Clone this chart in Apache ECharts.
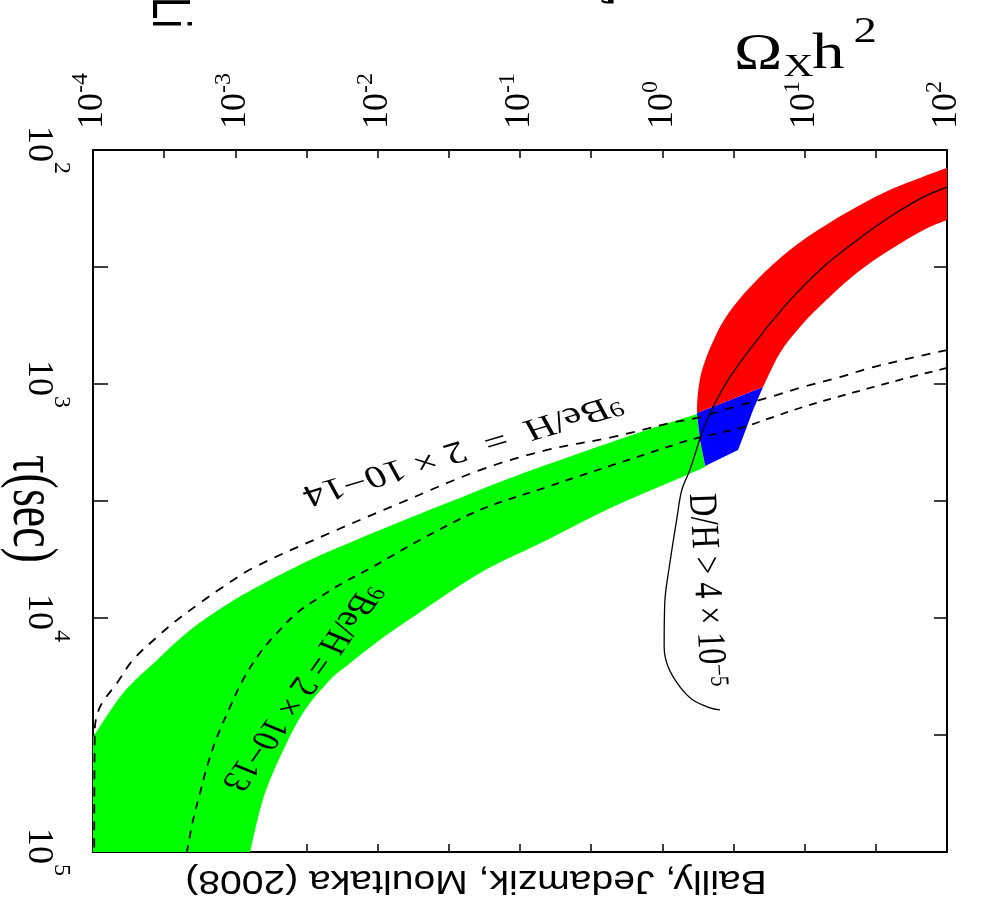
<!DOCTYPE html>
<html>
<head>
<meta charset="utf-8">
<title>Ω_X h² versus τ</title>
<script src="https://cdn.jsdelivr.net/npm/echarts@6.0.0/dist/echarts.min.js"></script>
<style>
html, body { margin: 0; padding: 0; background: #ffffff; }
#chart { width: 986px; height: 910px; }
</style>
</head>
<body>
<div id="chart"></div>
<script>
// Decades shown on each axis (log10 of the plotted quantity)
const omegaExponents = [-4, -3, -2, -1, 0, 1, 2];
const tauExponents = [2, 3, 4, 5];

// Region boundaries, points given as [Ω_X h², τ (sec)]
const redOuterEdge = [
  [100, 119], [67.9, 130], [39.8, 148], [23.3, 175], [13.5, 213], [7.9, 267],
  [4.62, 359], [3.14, 469], [2.42, 605], [1.93, 846], [1.78, 1092], [1.75, 1330]
];
const redInnerEdge = [
  [5.10, 1030], [6.71, 737], [9.27, 571], [13.5, 451], [23.3, 335], [39.8, 267],
  [67.9, 220], [100, 199]
];
const blueOutline = [
  [1.75, 1330], [5.10, 1030], [4.34, 1291], [3.69, 1684], [3.40, 1914],
  [2.00, 2241], [1.84, 1735]
];
const greenUpperEdge = [
  [1.75, 1343], [0.780, 1573], [0.264, 1972], [0.0893, 2497], [0.0307, 3226],
  [0.0104, 4207], [3.35e-3, 5650], [1.42e-3, 7370], [8.18e-4, 8970], [4.81e-4, 11250],
  [2.82e-4, 15100], [1.63e-4, 20900], [1e-4, 32300]
];
const greenLowerEdge = [
  [1.27e-3, 1e5], [1.56e-3, 59900], [2.06e-3, 39300], [2.98e-3, 25500],
  [4.62e-3, 18400], [6.40e-3, 15600], [0.0104, 12400], [0.0177, 9910],
  [0.0524, 6420], [0.155, 4640], [0.450, 3350], [1.33, 2520], [2.00, 2263]
];
const greenCorners = [[1e-4, 1e5], [1.84, 1735]];

// D/H > 4e-5 contour
const dhCurve = [
  [100, 144], [67.9, 159], [39.8, 193], [23.3, 243], [13.5, 316], [7.9, 438],
  [4.62, 649], [2.99, 933], [2.27, 1254], [1.93, 1573], [1.56, 2332], [1.37, 2838],
  [1.27, 3700], [1.13, 5820], [1.04, 8630], [1.03, 13300], [1.10, 16200],
  [1.33, 19700], [1.64, 22400], [2.16, 24200], [2.54, 24700]
];
// 9Be/H = 2e-14 contour
const be14Curve = [
  [100, 716], [49.1, 789], [28.8, 854], [16.9, 942], [9.73, 1030], [5.71, 1137],
  [2.99, 1267], [1.75, 1397], [1.13, 1468], [0.450, 1684], [0.155, 1914],
  [0.0524, 2332], [0.0144, 3226], [4.62e-3, 4330], [1.33e-3, 6110], [8.18e-4, 7370],
  [5.65e-4, 8630], [3.89e-4, 10200], [2.82e-4, 12050], [1.91e-4, 15100],
  [1.48e-4, 18900], [1.12e-4, 24000], [1.03e-4, 30100], [1.02e-4, 1e5]
];
// 9Be/H = 2e-13 contour
const be13Curve = [
  [100, 854], [52.4, 942], [28.8, 1040], [16.9, 1137], [9.73, 1254], [6.0, 1384],
  [3.52, 1542], [1.75, 1702], [1.33, 1786], [0.450, 2218], [0.155, 2754],
  [0.0524, 3453], [0.0198, 4640], [0.0122, 5490], [8.41e-3, 6240], [5.70e-3, 7080],
  [3.94e-3, 8130], [2.71e-3, 9520], [1.96e-3, 11600], [1.49e-3, 14100],
  [1.13e-3, 18400], [9.19e-4, 24000], [7.43e-4, 32300], [6.32e-4, 43300],
  [5.65e-4, 56000], [5.05e-4, 73000], [4.57e-4, 1e5]
];

const lg = p => [Math.log10(p[0]), Math.log10(p[1])];

const SERIF = "'Liberation Serif', 'Times New Roman', serif";
const SANS = "'Liberation Sans', Arial, sans-serif";

// Path through one boundary: smooth Catmull-Rom pieces between its points
function edgePath(pts, start) {
  let d = (start ? 'M' : 'L') + pts[0][0] + ',' + pts[0][1];
  const n = pts.length;
  for (let i = 0; i < n - 1; i++) {
    const p0 = pts[Math.max(i - 1, 0)], p1 = pts[i], p2 = pts[i + 1], p3 = pts[Math.min(i + 2, n - 1)];
    const c1 = [p1[0] + (p2[0] - p0[0]) / 6, p1[1] + (p2[1] - p0[1]) / 6];
    const c2 = [p2[0] - (p3[0] - p1[0]) / 6, p2[1] - (p3[1] - p1[1]) / 6];
    d += 'C' + c1[0] + ',' + c1[1] + ' ' + c2[0] + ',' + c2[1] + ' ' + p2[0] + ',' + p2[1];
  }
  return d;
}

// Filled region made of boundary pieces joined by straight corners
function regionSeries(edges, color) {
  return {
    type: 'custom',
    coordinateSystem: 'cartesian2d',
    clip: true,
    silent: true,
    z: 2,
    data: [[omegaExponents[0], tauExponents[0]]],
    renderItem: (params, api) => {
      let d = '';
      edges.forEach((edge, k) => {
        d += edgePath(edge.map(p => api.coord(lg(p))), k === 0);
      });
      return { type: 'path', shape: { pathData: d + 'Z' }, style: { fill: color, stroke: null } };
    }
  };
}

function polygonSeries(outline, color) {
  return {
    type: 'custom',
    coordinateSystem: 'cartesian2d',
    clip: true,
    silent: true,
    z: 2,
    data: [[omegaExponents[0], tauExponents[0]]],
    renderItem: (params, api) => ({
      type: 'polygon',
      shape: { points: outline.map(p => api.coord(lg(p))) },
      style: { fill: color, stroke: null }
    })
  };
}

function curveSeries(points, dash, width) {
  return {
    type: 'line',
    data: points.map(lg),
    symbol: 'none',
    smooth: 0.35,
    clip: true,
    silent: true,
    z: 3,
    lineStyle: { color: '#000', width: width, type: dash }
  };
}

const tickLabel = (baseLine) => ({
  formatter: v => '{b|10}{s|' + v + '}',
  rich: {
    b: { fontFamily: SERIF, fontSize: 36, color: '#000', lineHeight: baseLine },
    s: { fontFamily: SERIF, fontSize: 24, color: '#000', lineHeight: 24, verticalAlign: 'top' }
  }
});

function frameAxis(extra, tickLen) {
  return Object.assign({
    type: 'value',
    splitLine: { show: false },
    axisLine: { show: true, onZero: false, lineStyle: { color: '#000', width: 2 } },
    axisTick: { show: true, inside: true, length: tickLen, lineStyle: { color: '#000', width: 1.5 } },
    minorTick: { show: true, splitNumber: 2, length: tickLen, lineStyle: { color: '#000', width: 1.5 } },
    interval: 1
  }, extra);
}

const oMin = omegaExponents[0], oMax = omegaExponents[omegaExponents.length - 1];
const tMin = tauExponents[0], tMax = tauExponents[tauExponents.length - 1];

function label(x, y, sx, rot, text, size, family, align, vAlign, rich) {
  return {
    type: 'group', x: x, y: y, scaleX: sx, silent: true, z: 50,
    children: [{
      type: 'text', rotation: rot, z: 50,
      style: {
        text: text, fontFamily: family, fontSize: size, fill: '#000',
        align: align, verticalAlign: vAlign, rich: rich || {}
      }
    }]
  };
}

const supRich = { p: { fontFamily: SERIF, fontSize: 21, verticalAlign: 'top' } };

const chart = echarts.init(document.getElementById('chart'));
chart.setOption({
  animation: false,
  backgroundColor: '#ffffff',
  grid: { left: 93, right: 39, top: 150, bottom: 58, containLabel: false },
  xAxis: [
    frameAxis({
      position: 'top', min: oMin, max: oMax,
      axisLabel: Object.assign({ show: true, rotate: -90, margin: 21 }, tickLabel(48))
    }, 8),
    frameAxis({
      position: 'bottom', min: oMin, max: oMax, axisLabel: { show: false }
    }, 8)
  ],
  yAxis: [
    frameAxis({
      position: 'left', min: tMin, max: tMax, inverse: true,
      axisLabel: Object.assign({ show: true, rotate: -90, margin: 20 }, tickLabel(70))
    }, 15),
    frameAxis({
      position: 'right', min: tMin, max: tMax, inverse: true, axisLabel: { show: false }
    }, 13)
  ],
  series: [
    regionSeries([greenUpperEdge, [greenCorners[0]], greenLowerEdge, [greenCorners[1]]], '#00ff00'),
    polygonSeries(blueOutline, '#0000ff'),
    regionSeries([redOuterEdge, redInnerEdge], '#ff0000'),
    curveSeries(be14Curve, [9, 8], 1.8),
    curveSeries(be13Curve, [8, 7], 1.8),
    curveSeries(dhCurve, 'solid', 1.3)
  ],
  graphic: [
    // axis title for Ω_X h²
    {
      type: 'group', x: 734, y: 0, scaleX: 1.3, silent: true, z: 50,
      children: [
        { type: 'text', x: 0, y: 55, style: { text: 'Ω', fontFamily: SERIF, fontSize: 50, fill: '#000', verticalAlign: 'middle' } },
        { type: 'text', x: 38, y: 68, style: { text: 'X', fontFamily: SERIF, fontSize: 32, fill: '#000', verticalAlign: 'middle' } },
        { type: 'text', x: 60, y: 55, style: { text: 'h', fontFamily: SERIF, fontSize: 50, fill: '#000', verticalAlign: 'middle' } },
        { type: 'text', x: 92, y: 33, style: { text: '2', fontFamily: SERIF, fontSize: 36, fill: '#000', verticalAlign: 'middle' } }
      ]
    },
    // axis title for τ
    label(31, 509, 1.4, -Math.PI / 2, 'τ(sec)', 46, SERIF, 'center', 'middle'),
    // contour annotations
    label(462, 449, 1.35, -2.758, '{p|9}Be/H  =  2 × 10−14', 31, SERIF, 'center', 'middle', supRich),
    label(301, 687, 1.3, -2.068, '{p|9}Be/H = 2 × 10−13', 30, SERIF, 'center', 'middle', supRich),
    label(706, 590, 1.25, -1.524, 'D/H > 4 × 10{p|−5}', 32, SERIF, 'center', 'middle', supRich),
    // title fragments along the top edge
    label(141, -3, 1.35, -Math.PI / 2, 'Li', 40, SANS, 'left', 'bottom'),
    label(596, -4, 1.3, -Math.PI / 2, ',', 40, SANS, 'left', 'bottom'),
    // credit line
    {
      type: 'text', x: 476, y: 880, rotation: Math.PI, scaleX: 1.15, silent: true, z: 50,
      style: {
        text: 'Bailly, Jedamzik, Moultaka (2008)', fontFamily: SANS, fontSize: 34, fill: '#000',
        align: 'center', verticalAlign: 'middle'
      }
    }
  ]
});
</script>
</body>
</html>
